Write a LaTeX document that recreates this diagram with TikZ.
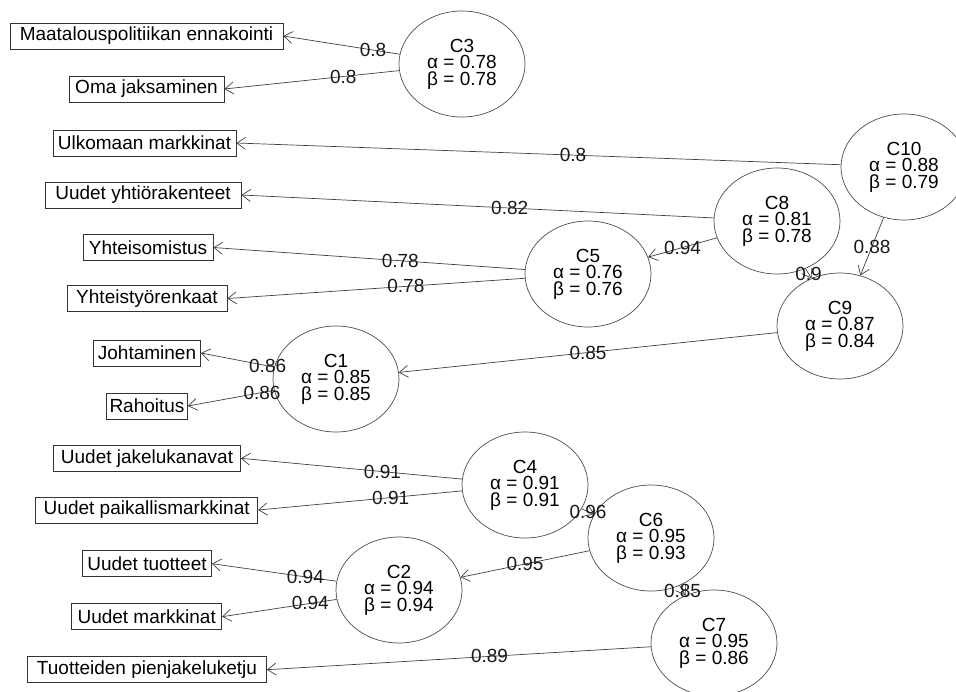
\documentclass[tikz,border=0pt]{standalone}
\usepackage{fontspec}
\setmainfont{Liberation Sans}
\usetikzlibrary{shapes.geometric,arrows.meta}
\begin{document}
\begin{tikzpicture}[x=1pt,y=-1pt,
  item/.style={draw=black!80, line width=0.8pt, rectangle, minimum height=26pt, inner sep=0pt, font=\fontsize{19}{20}\selectfont},
  clus/.style={draw=black!70, line width=0.7pt, ellipse, minimum width=126pt, minimum height=106pt, inner sep=0pt, align=center, font=\fontsize{19}{16.5}\selectfont},
  link/.style={draw=black!75, line width=0.7pt, -{Straight Barb[length=8.5pt,width=12pt]}},
  lab/.style={font=\fontsize{19}{20}\selectfont, inner sep=0pt, text=black!90}
]
\useasboundingbox (0,0) rectangle (956,691);

% items
\node[item, minimum width=273pt] (m)   at (146.5,36)  {Maatalouspolitiikan ennakointi};
\node[item, minimum width=155pt] (oma) at (146.5,89)  {Oma jaksaminen};
\node[item, minimum width=183pt] (ulk) at (144.5,143) {Ulkomaan markkinat};
\node[item, minimum width=196pt] (uyh) at (143,195)   {Uudet yhtiörakenteet};
\node[item, minimum width=130pt] (yom) at (148,247.5) {Yhteisomistus};
\node[item, minimum width=160pt] (yty) at (147,298.5) {Yhteistyörenkaat};
\node[item, minimum width=107pt] (joh) at (147,353)   {Johtaminen};
\node[item, minimum width=81pt]  (rah) at (147,406)   {Rahoitus};
\node[item, minimum width=187pt] (ujk) at (147,458.3) {Uudet jakelukanavat};
\node[item, minimum width=222pt] (upm) at (146.7,510) {Uudet paikallismarkkinat};
\node[item, minimum width=129pt] (utu) at (147,563.7) {Uudet tuotteet};
\node[item, minimum width=150pt] (uma) at (146.7,616.7) {Uudet markkinat};
\node[item, minimum width=239pt] (tpj) at (147,669.7) {Tuotteiden pienjakeluketju};

% clusters
\node[clus] (c3)  at (462,64)  {C3\\α = 0.78\\β = 0.78};
\node[clus] (c10) at (904,167) {C10\\α = 0.88\\β = 0.79};
\node[clus] (c8)  at (777,221) {C8\\α = 0.81\\β = 0.78};
\node[clus] (c5)  at (588,274) {C5\\α = 0.76\\β = 0.76};
\node[clus] (c9)  at (840,326) {C9\\α = 0.87\\β = 0.84};
\node[clus] (c1)  at (336,379) {C1\\α = 0.85\\β = 0.85};
\node[clus] (c4)  at (525,485) {C4\\α = 0.91\\β = 0.91};
\node[clus] (c6)  at (651,538) {C6\\α = 0.95\\β = 0.93};
\node[clus] (c2)  at (399,590) {C2\\α = 0.94\\β = 0.94};
\node[clus] (c7)  at (714,643) {C7\\α = 0.95\\β = 0.86};

% connectors
\draw[link] (c3) -- node[lab, pos=0.23] {0.8} (m.east);
\draw[link] (c3) -- node[lab, pos=0.32] {0.8} (oma.east);
\draw[link] (c10) -- node[lab, pos=0.443] {0.8} (ulk.east);
\draw[link] (c8) -- node[lab, pos=0.432] {0.82} (uyh.east);
\draw[link] (c8) -- node[lab, pos=0.5] {0.94} (c5);
\draw[link] (c5) -- node[lab, pos=0.40] {0.78} (yom.east);
\draw[link] (c5) -- node[lab, pos=0.40] {0.78} (yty.east);
\draw[link] (c10) -- node[lab, pos=0.5] {0.88} (c9);
\draw[link] (c8) -- node[lab, pos=0.5] {0.9} (c9);
\draw[link] (c9) -- node[lab, pos=0.5] {0.85} (c1);
\draw[link] (c1) -- node[lab, pos=0.09] {0.86} (joh.east);
\draw[link] (c1) -- node[lab, pos=0.14] {0.86} (rah.east);
\draw[link] (c4) -- node[lab, pos=0.36] {0.91} (ujk.east);
\draw[link] (c4) -- node[lab, pos=0.35] {0.91} (upm.east);
\draw[link] (c4) -- node[lab, pos=0.5] {0.96} (c6);
\draw[link] (c6) -- node[lab, pos=0.5] {0.95} (c2);
\draw[link] (c6) -- node[lab, pos=0.5] {0.85} (c7);
\draw[link] (c2) -- node[lab, pos=0.25] {0.94} (utu.east);
\draw[link] (c2) -- node[lab, pos=0.23] {0.94} (uma.east);
\draw[link] (c7) -- node[lab, pos=0.42] {0.89} (tpj.east);
\end{tikzpicture}
\end{document}
